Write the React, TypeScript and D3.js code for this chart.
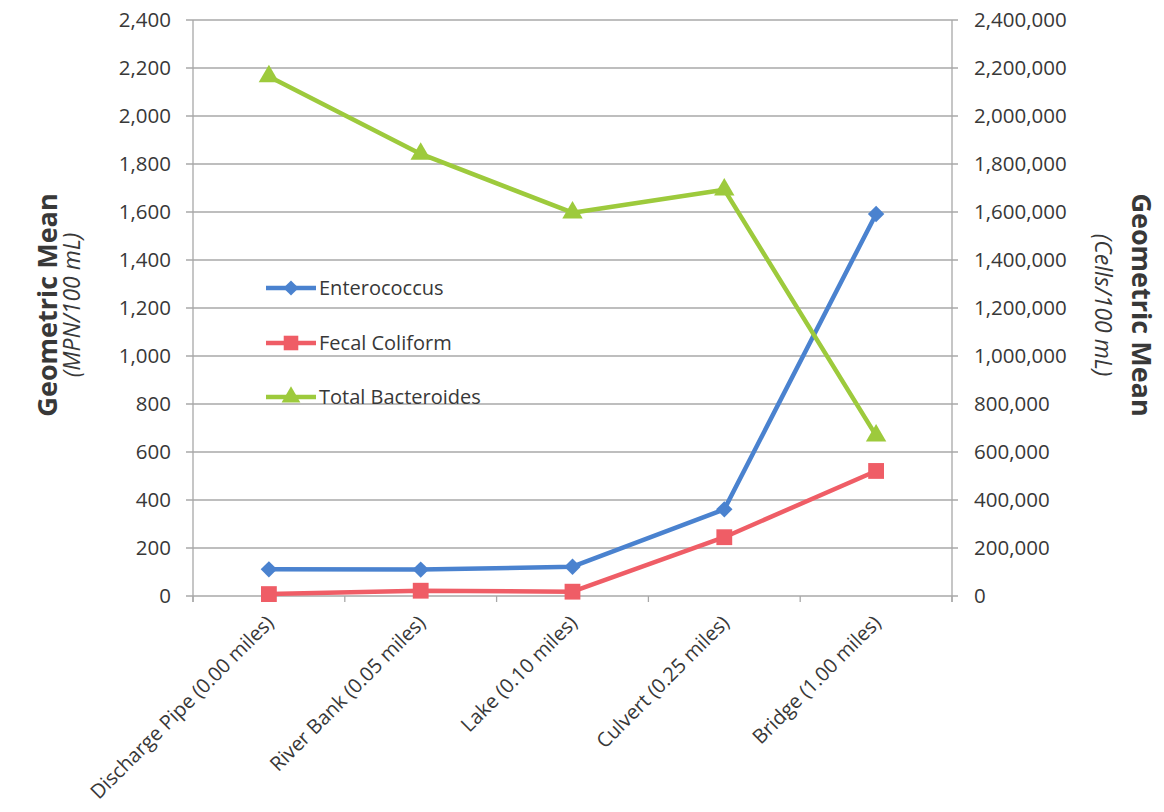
import React, { useEffect, useRef } from "react";
import * as d3 from "d3";

const categories = [
  "Discharge Pipe (0.00 miles)",
  "River Bank (0.05 miles)",
  "Lake (0.10 miles)",
  "Culvert (0.25 miles)",
  "Bridge (1.00 miles)",
];
const enterococcus = [111, 110, 122, 361, 1592];
const fecalColiform = [8, 22, 18, 245, 521];
const totalBacteroides = [2165000, 1842000, 1597000, 1693000, 668000];
const leftTicks = [0, 200, 400, 600, 800, 1000, 1200, 1400, 1600, 1800, 2000, 2200, 2400];
const rightTicks = [0, 200000, 400000, 600000, 800000, 1000000, 1200000, 1400000, 1600000, 1800000, 2000000, 2200000, 2400000];
const seriesNames = ["Enterococcus", "Fecal Coliform", "Total Bacteroides"];

const W = 1164;
const H = 812;
const M = { left: 193, right: 1164 - 952, top: 20, bottom: 812 - 596 };
const FONT = "'Open Sans', sans-serif";
const TXT = "#383838";

export default function App() {
  const ref = useRef<SVGSVGElement>(null);
  useEffect(() => {
    const svg = d3.select(ref.current);
    svg.selectAll("*").remove();
    const x = d3.scaleBand().domain(categories).range([M.left, W - M.right]);
    const yL = d3.scaleLinear().domain([0, 2400]).range([H - M.bottom, M.top]);
    const yR = d3.scaleLinear().domain([0, 2400000]).range([H - M.bottom, M.top]);
    const grid = "#a8a8a8";
    const fmt = d3.format(",");

    svg.append("g")
      .selectAll("line")
      .data(leftTicks)
      .join("line")
      .attr("x1", M.left - 7)
      .attr("x2", W - M.right + 6)
      .attr("y1", (d) => yL(d))
      .attr("y2", (d) => yL(d))
      .attr("stroke", grid)
      .attr("stroke-width", 1.3);
    svg.append("line").attr("x1", M.left).attr("x2", M.left).attr("y1", M.top).attr("y2", yL(0) + 6)
      .attr("stroke", grid).attr("stroke-width", 1.3);
    svg.append("line").attr("x1", W - M.right).attr("x2", W - M.right).attr("y1", M.top).attr("y2", yL(0) + 6)
      .attr("stroke", grid).attr("stroke-width", 1.3);
    const bounds = categories.map((c) => x(c)!).concat([W - M.right]);
    svg.append("g").selectAll("line").data(bounds).join("line")
      .attr("x1", (d) => d).attr("x2", (d) => d)
      .attr("y1", yL(0)).attr("y2", yL(0) + 6)
      .attr("stroke", grid).attr("stroke-width", 1.3);

    svg.append("g").selectAll("text").data(leftTicks).join("text")
      .attr("x", M.left - 22)
      .attr("y", (d) => yL(d))
      .attr("dy", "0.36em")
      .attr("text-anchor", "end")
      .attr("font-family", FONT)
      .attr("font-size", 20.5)
      .attr("fill", TXT)
      .text((d) => fmt(d));
    svg.append("g").selectAll("text").data(rightTicks).join("text")
      .attr("x", W - M.right + 22)
      .attr("y", (d) => yR(d))
      .attr("dy", "0.36em")
      .attr("text-anchor", "start")
      .attr("font-family", FONT)
      .attr("font-size", 20.5)
      .attr("fill", TXT)
      .text((d) => fmt(d));
    svg.append("g").selectAll("text").data(categories).join("text")
      .attr("transform", (d) => `translate(${x(d)! + x.bandwidth() / 2 + 6},${yL(0) + 28}) rotate(-45)`)
      .attr("text-anchor", "end")
      .attr("font-family", FONT)
      .attr("font-size", 20)
      .attr("fill", TXT)
      .text((d) => d);

    svg.append("text").attr("transform", `translate(57,305) rotate(-90)`).attr("text-anchor", "middle")
      .attr("font-family", FONT).attr("font-weight", "bold").attr("font-size", 27).attr("fill", TXT)
      .text("Geometric Mean");
    svg.append("text").attr("transform", `translate(80,305) rotate(-90)`).attr("text-anchor", "middle")
      .attr("font-family", FONT).attr("font-style", "italic").attr("font-size", 23).attr("fill", TXT)
      .text("(MPN/100 mL)");
    svg.append("text").attr("transform", `translate(1132,305) rotate(90)`).attr("text-anchor", "middle")
      .attr("font-family", FONT).attr("font-weight", "bold").attr("font-size", 27).attr("fill", TXT)
      .text("Geometric Mean");
    svg.append("text").attr("transform", `translate(1095,305) rotate(90)`).attr("text-anchor", "middle")
      .attr("font-family", FONT).attr("font-style", "italic").attr("font-size", 23).attr("fill", TXT)
      .text("(Cells/100 mL)");

    const cx = (c: string) => x(c)! + x.bandwidth() / 2;
    const series = [
      { name: seriesNames[0], values: enterococcus, y: yL, color: "#4a82cf", symbol: d3.symbolSquare, size: 135, rot: 45 },
      { name: seriesNames[1], values: fecalColiform, y: yL, color: "#ef5d66", symbol: d3.symbolSquare, size: 250, rot: 0 },
      { name: seriesNames[2], values: totalBacteroides, y: yR, color: "#9dca3c", symbol: d3.symbolTriangle, size: 180, rot: 0 },
    ];
    series.forEach((s) => {
      const line = d3.line<number>().x((_, i) => cx(categories[i])).y((d) => s.y(d));
      svg.append("path").attr("d", line(s.values)!).attr("fill", "none").attr("stroke", s.color)
        .attr("stroke-width", 4.5).attr("stroke-linejoin", "round");
      svg.append("g").selectAll("path").data(s.values).join("path")
        .attr("transform", (d, i) => `translate(${cx(categories[i])},${s.y(d)}) rotate(${s.rot})`)
        .attr("d", d3.symbol().type(s.symbol).size(s.size)()!)
        .attr("fill", s.color);
    });

    const legendY = [288, 343, 397];
    series.forEach((s, i) => {
      const g = svg.append("g").attr("transform", `translate(266,${legendY[i]})`);
      g.append("line").attr("x1", 0).attr("x2", 50).attr("stroke", s.color).attr("stroke-width", 4.5);
      g.append("path").attr("transform", `translate(25,0) rotate(${s.rot})`)
        .attr("d", d3.symbol().type(s.symbol).size(s.size * 0.85)()!).attr("fill", s.color);
      g.append("text").attr("x", 53).attr("dy", "0.36em").attr("font-family", FONT).attr("font-size", 20)
        .attr("fill", TXT).text(s.name);
    });
  }, []);
  return (
    <div style={{ position: "absolute", left: 0, top: 0 }}>
      <svg ref={ref} width={W} height={H} style={{ display: "block", background: "#fff" }} />
    </div>
  );
}
